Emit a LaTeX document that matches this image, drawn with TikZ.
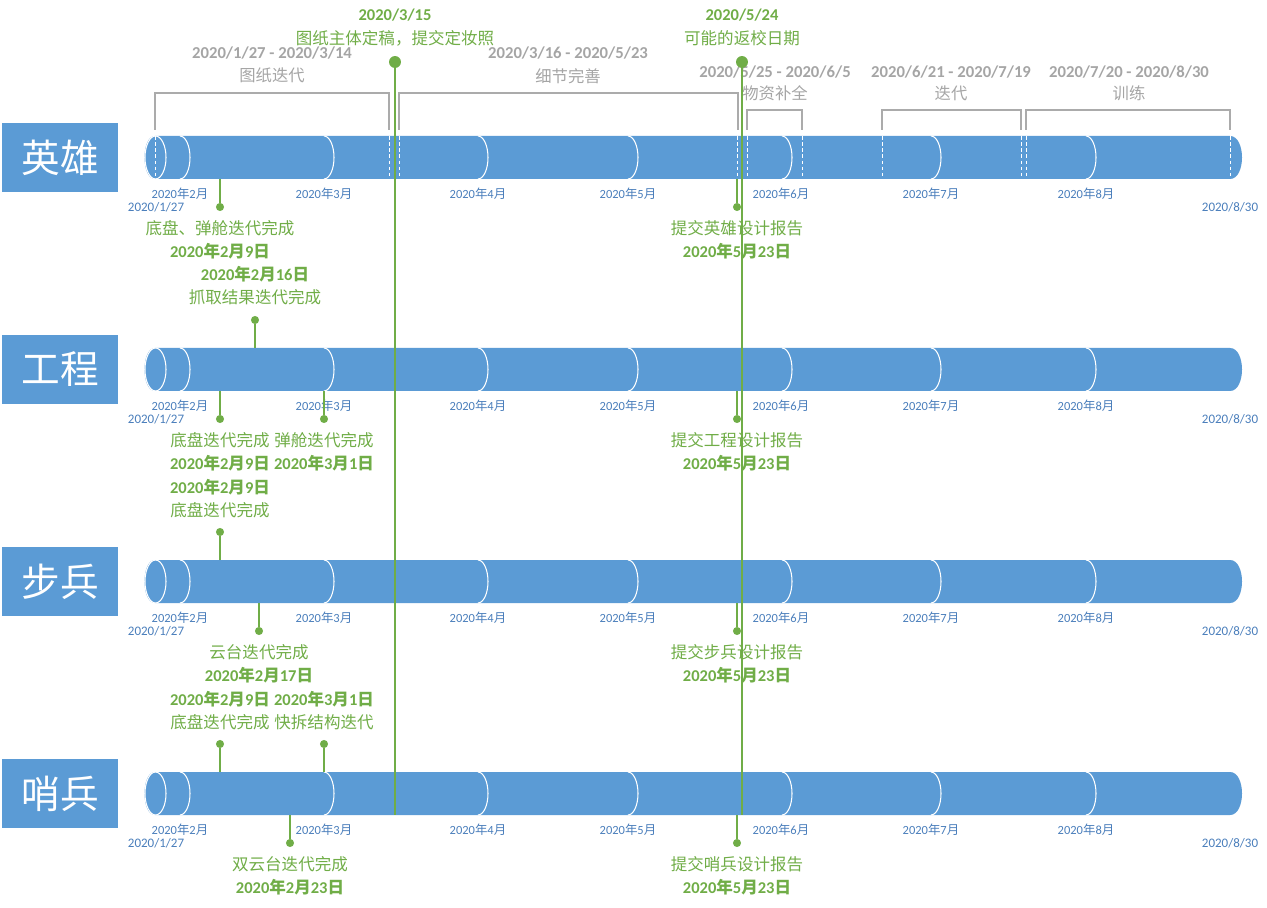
\documentclass[tikz,border=0pt]{standalone}
\usepackage{fontspec}
\setmainfont{Carlito}
\newfontfamily\cjk{Noto Sans CJK SC}
\usetikzlibrary{calc}

\definecolor{barblue}{HTML}{5B9BD5}
\definecolor{monthblue}{HTML}{4A7EBB}
\definecolor{msgreen}{HTML}{70AD47}
\definecolor{rangegray}{HTML}{A5A5A5}
\definecolor{bracketgray}{HTML}{ABABAB}

% year-month-day and year-month in mixed fonts
\newcommand\ymd[3]{#1{\cjk 年}#2{\cjk 月}#3{\cjk 日}}
\newcommand\ym[2]{#1{\cjk 年}#2{\cjk 月}}

\begin{document}
\begin{tikzpicture}[x=0.02cm,y=-0.02cm,
  rowbox/.style={fill=barblue,text=white,minimum width=2.32cm,minimum height=1.38cm,
    inner sep=0,font=\cjk\fontsize{22}{22}\selectfont},
  monthlbl/.style={text=monthblue,inner sep=0,font=\fontsize{7.1}{8}\selectfont},
  endlbl/.style={text=monthblue,inner sep=0,font=\fontsize{7.4}{8}\selectfont},
  rangedate/.style={text=rangegray,inner sep=0,font=\bfseries\fontsize{9.5}{10}\selectfont},
  rangename/.style={text=rangegray,inner sep=0,font=\cjk\fontsize{9.3}{10}\selectfont},
  bracket/.style={draw=bracketgray,line width=0.6pt},
  mstext/.style={text=msgreen,inner sep=0,font=\cjk\fontsize{9.4}{10}\selectfont},
  msdate/.style={text=msgreen,inner sep=0,font=\bfseries\fontsize{9.4}{10}\selectfont},
  msdot/.style={circle,fill=msgreen,inner sep=0,minimum size=4.6pt},
  bigdot/.style={circle,fill=msgreen,inner sep=0,minimum size=6.8pt},
  stem/.style={draw=msgreen,line width=0.6pt},
  longline/.style={draw=msgreen,line width=0.8pt}]
\useasboundingbox (0,0) rectangle (1267,908);

% four rows: box, cylinder, month marks
\foreach \r/\name in {0/英雄,1/工程,2/步兵,3/哨兵} {
  \pgfmathsetmacro\yc{157.5+212*\r}
  \node[rowbox] (box\r) at (60,\yc) {\name};
  \fill[barblue] (155,\yc-21.5) -- (1230,\yc-21.5)
    .. controls (1246,\yc-21.5) and (1246,\yc+21.5) .. (1230,\yc+21.5)
    -- (155,\yc+21.5)
    .. controls (141,\yc+21.5) and (141,\yc-21.5) .. (155,\yc-21.5) -- cycle;
  \draw[white,line width=0.6pt] (155.5,\yc) ellipse[x radius=0.21cm,y radius=0.43cm];
  \foreach \mx in {180,324,478,628,782,931,1086}
    \draw[white,line width=0.6pt] (\mx,\yc-21.5) arc[start angle=90,end angle=-90,x radius=0.2cm,y radius=0.43cm];
  \foreach \mx/\m [count=\i] in {180/2,324/3,478/4,628/5,781/6,931/7,1086/8}
    \node[monthlbl] (mon\r-\i) at (\mx,\yc+36.5) {\ym{2020}{\m}};
  \node[endlbl] (start\r) at (156,\yc+49.5) {2020/1/27};
  \node[endlbl] (end\r) at (1230,\yc+49.5) {2020/8/30};
}

% phase boundaries on the first bar
\foreach \bx in {155,389,399,737,747,802,882,1021,1026,1230}
  \draw[white,line width=0.5pt,dash pattern=on 2pt off 1.5pt] (\bx,136) -- (\bx,179);

% phase brackets
\draw[bracket] (155,130) |- (389,93) -- (389,130);
\draw[bracket] (399,130) |- (738,93) -- (738,130);
\draw[bracket] (747,130) |- (802,110) -- (802,130);
\draw[bracket] (882,130) |- (1021,110) -- (1021,130);
\draw[bracket] (1026,130) |- (1230,110) -- (1230,130);
\node[rangedate] (r1date) at (272,53) {2020/1/27 - 2020/3/14};
\node[rangename] (r1name) at (272,75) {图纸迭代};
\node[rangedate] (r2date) at (568,53) {2020/3/16 - 2020/5/23};
\node[rangename] (r2name) at (568,76) {细节完善};
\node[rangedate] (r3date) at (775,72) {2020/5/25 - 2020/6/5};
\node[rangename] (r3name) at (775,93) {物资补全};
\node[rangedate] (r4date) at (951,72) {2020/6/21 - 2020/7/19};
\node[rangename] (r4name) at (951,93) {迭代};
\node[rangedate] (r5date) at (1129,72) {2020/7/20 - 2020/8/30};
\node[rangename] (r5name) at (1129,93) {训练};

% 英雄
\coordinate (hbase1) at (220,179);
\node[msdot] (hdot1) at (220,207) {};
\draw[stem] (hbase1) -- (hdot1);
\node[mstext] (htext1) at (220,228) {底盘、弹舱迭代完成};
\node[msdate] (hdate1) at (220,251) {\ymd{2020}{2}{9}};
\coordinate (hbase2) at (737,179);
\node[msdot] (hdot2) at (737,207) {};
\draw[stem] (hbase2) -- (hdot2);
\node[mstext] (htext2) at (737,228) {提交英雄设计报告};
\node[msdate] (hdate2) at (737,251) {\ymd{2020}{5}{23}};

% 工程
\coordinate (ebase1) at (255,348);
\node[msdot] (edot1) at (255,320) {};
\draw[stem] (ebase1) -- (edot1);
\node[msdate] (edate1) at (255,274) {\ymd{2020}{2}{16}};
\node[mstext] (etext1) at (255,297) {抓取结果迭代完成};
\coordinate (ebase2) at (220,391);
\node[msdot] (edot2) at (220,419) {};
\draw[stem] (ebase2) -- (edot2);
\node[mstext] (etext2) at (220,440) {底盘迭代完成};
\node[msdate] (edate2) at (220,463) {\ymd{2020}{2}{9}};
\coordinate (ebase3) at (324,391);
\node[msdot] (edot3) at (324,419) {};
\draw[stem] (ebase3) -- (edot3);
\node[mstext] (etext3) at (324,440) {弹舱迭代完成};
\node[msdate] (edate3) at (324,463) {\ymd{2020}{3}{1}};
\coordinate (ebase4) at (737,391);
\node[msdot] (edot4) at (737,419) {};
\draw[stem] (ebase4) -- (edot4);
\node[mstext] (etext4) at (737,440) {提交工程设计报告};
\node[msdate] (edate4) at (737,463) {\ymd{2020}{5}{23}};

% 步兵
\coordinate (ibase1) at (220,560);
\node[msdot] (idot1) at (220,532) {};
\draw[stem] (ibase1) -- (idot1);
\node[msdate] (idate1) at (220,487) {\ymd{2020}{2}{9}};
\node[mstext] (itext1) at (220,510) {底盘迭代完成};
\coordinate (ibase2) at (259,603);
\node[msdot] (idot2) at (259,631) {};
\draw[stem] (ibase2) -- (idot2);
\node[mstext] (itext2) at (259,652) {云台迭代完成};
\node[msdate] (idate2) at (259,675) {\ymd{2020}{2}{17}};
\coordinate (ibase3) at (737,603);
\node[msdot] (idot3) at (737,631) {};
\draw[stem] (ibase3) -- (idot3);
\node[mstext] (itext3) at (737,652) {提交步兵设计报告};
\node[msdate] (idate3) at (737,675) {\ymd{2020}{5}{23}};

% 哨兵
\coordinate (sbase1) at (220,772);
\node[msdot] (sdot1) at (220,744) {};
\draw[stem] (sbase1) -- (sdot1);
\node[msdate] (sdate1) at (220,699) {\ymd{2020}{2}{9}};
\node[mstext] (stext1) at (220,722) {底盘迭代完成};
\coordinate (sbase2) at (324,772);
\node[msdot] (sdot2) at (324,744) {};
\draw[stem] (sbase2) -- (sdot2);
\node[msdate] (sdate2) at (324,699) {\ymd{2020}{3}{1}};
\node[mstext] (stext2) at (324,722) {快拆结构迭代};
\coordinate (sbase3) at (290,815);
\node[msdot] (sdot3) at (290,843) {};
\draw[stem] (sbase3) -- (sdot3);
\node[mstext] (stext3) at (290,864) {双云台迭代完成};
\node[msdate] (sdate3) at (290,887) {\ymd{2020}{2}{23}};
\coordinate (sbase4) at (737,815);
\node[msdot] (sdot4) at (737,843) {};
\draw[stem] (sbase4) -- (sdot4);
\node[mstext] (stext4) at (737,864) {提交哨兵设计报告};
\node[msdate] (sdate4) at (737,887) {\ymd{2020}{5}{23}};

% milestones across all rows
\node[msdate] (k1date) at (395,15) {2020/3/15};
\node[mstext] (k1text) at (395,38) {图纸主体定稿，提交定妆照};
\node[bigdot] (k1dot) at (395,62) {};
\coordinate (k1end) at (395,815);
\draw[longline] (k1dot) -- (k1end);
\node[msdate] (k2date) at (742,15) {2020/5/24};
\node[mstext] (k2text) at (742,38) {可能的返校日期};
\node[bigdot] (k2dot) at (742,62) {};
\coordinate (k2end) at (742,815);
\draw[longline] (k2dot) -- (k2end);
\end{tikzpicture}
\end{document}
